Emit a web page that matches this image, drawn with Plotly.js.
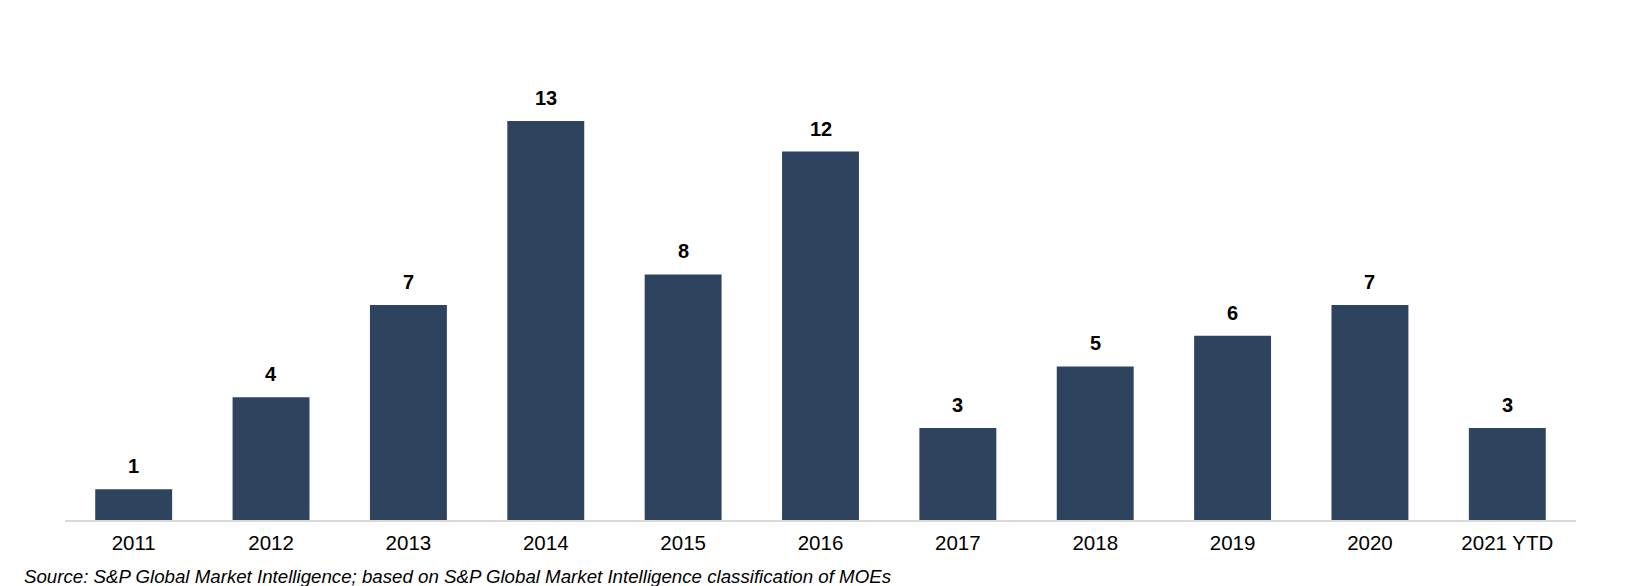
<!DOCTYPE html>
<html>
<head>
<meta charset="utf-8">
<script src="https://cdn.plot.ly/plotly-3.0.1.min.js"></script>
<style>html,body{margin:0;padding:0;background:#fff;}#chart{width:1628px;height:586px;}</style>
</head>
<body>
<div id="chart"></div>
<script>
const categories = ["2011", "2012", "2013", "2014", "2015", "2016", "2017", "2018", "2019", "2020", "2021 YTD"];
const values = [1, 4, 7, 13, 8, 12, 3, 5, 6, 7, 3];
const sourceText = "Source: S&P Global Market Intelligence; based on S&P Global Market Intelligence classification of MOEs";

const FONT = "Liberation Sans, Arial, Helvetica, sans-serif";

const trace = {
  type: "bar",
  x: categories,
  y: values,
  marker: { color: "#2E445E", line: { width: 0 } },
  hoverinfo: "x+y"
};

const valueAnnotations = categories.map((c, i) => ({
  x: i, y: values[i], xref: "x", yref: "y",
  text: "<b>" + values[i] + "</b>",
  showarrow: false, yanchor: "bottom", yshift: 10,
  font: { family: FONT, size: 20, color: "#000" }
}));

const layout = {
  width: 1628, height: 586,
  margin: { l: 65, r: 52, t: 30, b: 66 },
  paper_bgcolor: "#fff", plot_bgcolor: "#fff",
  bargap: 0.44,
  showlegend: false,
  xaxis: {
    type: "category",
    range: [-0.5, categories.length - 0.5],
    showline: true, linecolor: "#d9d9d9", linewidth: 2,
    showgrid: false, zeroline: false, ticks: "",
    ticklabelstandoff: 3,
    tickfont: { family: FONT, size: 20.5, color: "#000" }
  },
  yaxis: {
    range: [0, 15.96], visible: false, showgrid: false, zeroline: false
  },
  annotations: valueAnnotations.concat([{
    xref: "paper", yref: "paper", x: -0.0285, y: -0.1153,
    xanchor: "left", yanchor: "middle", showarrow: false,
    text: "<i>" + sourceText + "</i>",
    font: { family: FONT, size: 18.7, color: "#000" }
  }])
};

Plotly.newPlot("chart", [trace], layout, { displayModeBar: false, staticPlot: true });
</script>
</body>
</html>
